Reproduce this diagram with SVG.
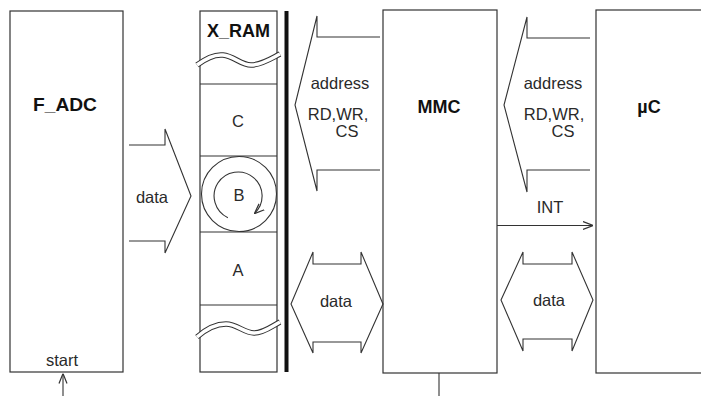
<svg xmlns="http://www.w3.org/2000/svg" width="701" height="396" viewBox="0 0 701 396">
<defs>
<style>
.box{fill:#fff;stroke:#333;stroke-width:1.2}
.ln{fill:none;stroke:#333;stroke-width:1.1}
.t{font-family:"Liberation Sans",Arial,sans-serif;font-size:16.5px;fill:#2a2a2a;text-anchor:middle}
.b{font-family:"Liberation Sans",Arial,sans-serif;font-size:18px;font-weight:bold;fill:#111;text-anchor:middle}
.wo{fill:none;stroke:#333;stroke-width:5.5}
.wi{fill:none;stroke:#fff;stroke-width:3.5}
</style>
<marker id="ah" viewBox="0 0 10 10" refX="10" refY="5" markerWidth="10" markerHeight="10" markerUnits="userSpaceOnUse" orient="auto">
<path d="M0,1 L10,5 L0,9" fill="none" stroke="#333" stroke-width="1.2"/>
</marker>
</defs>
<rect width="701" height="396" fill="#fff"/>

<g id="F_ADC">
<rect class="box" x="10" y="11" width="113" height="361"/>
<text class="b" x="65" y="111" textLength="64" lengthAdjust="spacingAndGlyphs">F_ADC</text>
<text class="t" x="62" y="366">start</text>
</g>

<g id="X_RAM">
<rect class="box" x="200" y="11" width="77" height="361"/>
<text class="b" x="238.5" y="37">X_RAM</text>
<line class="ln" x1="200" y1="84" x2="277" y2="84"/>
<line class="ln" x1="200" y1="156" x2="277" y2="156"/>
<line class="ln" x1="200" y1="232" x2="277" y2="232"/>
<line class="ln" x1="200" y1="305" x2="277" y2="305"/>
<path class="wo" d="M197,65 C205,59 214,54 223,55 C234,56 241,65 251,65 C262,65 272,58 280,54"/>
<path class="wi" d="M197,65 C205,59 214,54 223,55 C234,56 241,65 251,65 C262,65 272,58 280,54"/>
<path class="wo" d="M197,337 C205,330 215,324 226,324 C237,324 244,333 254,333 C264,333 272,326 280,322"/>
<path class="wi" d="M197,337 C205,330 215,324 226,324 C237,324 244,333 254,333 C264,333 272,326 280,322"/>
<text class="t" x="238" y="127">C</text>
<circle class="ln" cx="239" cy="194" r="37.5"/>
<path class="ln" d="M227.9,217.7 A24,24 0 1 1 254.4,213.6" marker-end="url(#ah)"/>
<text class="t" x="239" y="201">B</text>
<text class="t" x="238" y="276">A</text>
</g>

<g id="bus">
<rect x="284.5" y="11" width="4" height="361" fill="#111"/>
</g>

<g id="MMC">
<rect class="box" x="383" y="10" width="114" height="363"/>
<text class="b" x="439" y="113">MMC</text>
</g>

<g id="uC">
<rect class="box" x="596" y="10" width="120" height="363"/>
<text class="b" x="649" y="113">µC</text>
</g>

<g id="connectors">
<polyline class="ln" points="129,145 165,145 165,129 191,196 165,253 165,241 129,241"/>
<text class="t" x="152" y="203">data</text>

<polyline class="ln" points="380,37 317,37 317,16 295,105 317,191 317,170 380,170"/>
<text class="t" x="340" y="89">address</text>
<text class="t" x="338" y="120">RD,WR,</text>
<text class="t" x="347" y="137">CS</text>

<polygon class="ln" points="291,304 313,252 313,264 361,264 361,252 383,304 361,353 361,342 313,342 313,353"/>
<text class="t" x="336" y="307">data</text>

<polyline class="ln" points="590,38 527,38 527,17 504,105 527,192 527,170 590,170"/>
<text class="t" x="553" y="89">address</text>
<text class="t" x="554" y="120">RD,WR,</text>
<text class="t" x="563" y="137">CS</text>

<line class="ln" x1="497" y1="225.5" x2="593" y2="225.5" marker-end="url(#ah)"/>
<text class="t" x="550" y="213">INT</text>

<polygon class="ln" points="501,300 523,252 523,264 572,264 572,252 593,300 572,351 572,339 523,339 523,351"/>
<text class="t" x="549" y="306">data</text>

<line class="ln" x1="63" y1="396" x2="63" y2="373.5" marker-end="url(#ah)"/>
<line class="ln" x1="439" y1="373" x2="439" y2="396"/>
</g>
</svg>
